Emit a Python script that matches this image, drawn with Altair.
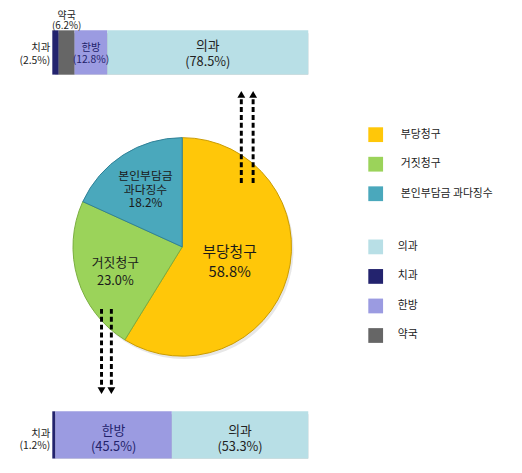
import altair as alt
import pandas as pd

FONT = "Noto Sans CJK KR"

# ---- data ----
pie_cats = ["부당청구", "거짓청구", "본인부담금 과다징수"]
pie_vals = [58.8, 23.0, 18.2]
pie_text = ["부당청구\n58.8%", "거짓청구\n23.0%", "본인부담금\n과다징수\n18.2%"]

top_cats = ["치과", "약국", "한방", "의과"]
top_vals = [2.5, 6.2, 12.8, 78.5]

bot_cats = ["치과", "한방", "의과"]
bot_vals = [1.2, 45.5, 53.3]

bar_legend_order = ["의과", "치과", "한방", "약국"]
bar_colors = ["#B8DFE6", "#23236E", "#9B9BE1", "#666666"]
pie_colors = ["#FFC709", "#9BD35A", "#4AA8BC"]
pie_strokes = ["#C99A00", "#7AAE3F", "#2F8096"]


def bar_df(cats, vals):
    df = pd.DataFrame({"cat": cats, "pct": vals})
    df["end"] = df["pct"].cumsum()
    df["start"] = df["end"] - df["pct"]
    df["mid"] = (df["start"] + df["end"]) / 2
    df["label"] = df["cat"] + "\n(" + df["pct"].map(lambda v: f"{v:.1f}%") + ")"
    return df


top_df = bar_df(top_cats, top_vals)
bot_df = bar_df(bot_cats, bot_vals)
pie_df = pd.DataFrame({"cat": pie_cats, "pct": pie_vals, "label": pie_text,
                       "idx": list(range(len(pie_cats)))})
dummy = pd.DataFrame({"a": [0]})

xs = alt.Scale(domain=[0, 100], range=[45, 305])
bar_scale = alt.Scale(domain=bar_legend_order, range=bar_colors)
pie_scale = alt.Scale(domain=pie_cats, range=pie_colors)
CX, CY, R = 177, 239, 111

layers = []

# ---- bar shadows ----
for y1, y2 in [(19, 64), (406, 454)]:
    layers.append(
        alt.Chart(dummy).mark_bar(color="#b5b5b5", xOffset=3, yOffset=3).encode(
            x=alt.X(datum=0, scale=xs, axis=None), x2=alt.datum(100),
            y=alt.value(y1), y2=alt.value(y2))
    )

# ---- bars ----
layers.append(
    alt.Chart(top_df).mark_bar().encode(
        x=alt.X("start:Q", scale=xs, axis=None), x2="end:Q",
        y=alt.value(19), y2=alt.value(64),
        color=alt.Color("cat:N", scale=bar_scale, legend=alt.Legend(
            orient="none", legendX=366, legendY=231.5, title=None,
            symbolType="square", symbolSize=225, symbolStrokeWidth=0,
            labelFont=FONT, labelFontSize=11, labelColor="#222",
            labelOffset=15, rowPadding=15, padding=0)))
)
layers.append(
    alt.Chart(bot_df).mark_bar().encode(
        x=alt.X("start:Q", scale=xs, axis=None), x2="end:Q",
        y=alt.value(406), y2=alt.value(454),
        color=alt.Color("cat:N", scale=bar_scale, legend=None))
)

navy_cond = alt.condition(alt.datum.cat == "한방", alt.value("#22226A"), alt.value("#222222"))


def label_layer(df, cats, field, y, fs, lh, color=None, align="center", dx=0):
    mk = dict(font=FONT, fontSize=fs, lineBreak="\n", lineHeight=lh, baseline="middle",
              align=align, dx=dx, dy=-lh / 2)
    enc = dict(x=alt.X(f"{field}:Q", scale=xs, axis=None), y=alt.value(y), text="label:N")
    if color is None:
        enc["color"] = navy_cond
    else:
        mk["color"] = color
    return alt.Chart(df).transform_filter(
        alt.FieldOneOfPredicate(field="cat", oneOf=cats)).mark_text(**mk).encode(**enc)


# ---- bar labels ----
layers.append(label_layer(top_df, ["의과"], "mid", 43, 13, 16, "#222"))
layers.append(label_layer(top_df, ["한방"], "mid", 43, 10.5, 12, "#22226A"))
layers.append(label_layer(top_df, ["약국"], "mid", 9.75, 10, 9.5, "#222"))
layers.append(label_layer(top_df, ["치과"], "start", 43.5, 10.5, 13, "#222", align="right", dx=-2))
layers.append(label_layer(bot_df, ["한방", "의과"], "mid", 434, 13, 16))
layers.append(label_layer(bot_df, ["치과"], "start", 435, 10.5, 12, "#222", align="right", dx=-2))

# ---- pie ----
layers.append(
    alt.Chart(dummy).mark_arc(radius=R, theta=0, theta2=6.2832, color="#dddddd", opacity=0.7).encode(
        x=alt.value(CX + 2), y=alt.value(CY + 3))
)
layers.append(
    alt.Chart(pie_df).mark_arc(radius=R, strokeWidth=1).encode(
        theta=alt.Theta("pct:Q", stack=True, scale=alt.Scale(domain=[0, 100])),
        order=alt.Order("idx:Q"),
        color=alt.Color("cat:N", scale=pie_scale, legend=alt.Legend(
            orient="none", legendX=366, legendY=117.5, title=None,
            symbolType="square", symbolSize=225, symbolStrokeWidth=0,
            labelFont=FONT, labelFontSize=11, labelColor="#222",
            labelOffset=18, rowPadding=15, padding=0)),
        stroke=alt.Stroke("cat:N", scale=alt.Scale(domain=pie_cats, range=pie_strokes), legend=None),
        x=alt.value(CX), y=alt.value(CY))
)

pie_text_base = alt.Chart(pie_df).transform_window(
    cum="sum(pct)", sort=[alt.SortField("idx")], frame=[None, 0]
).transform_calculate(mid="datum.cum - datum.pct / 2")

for cat, rad, fs, lh, nl, extra in [("부당청구", 50, 15, 20, 2, 2), ("거짓청구", 71, 13, 18, 2, 5),
                                    ("본인부담금 과다징수", 69, 12, 14, 3, 0)]:
    layers.append(
        pie_text_base.transform_filter(alt.datum.cat == cat).mark_text(
            font=FONT, fontSize=fs, lineBreak="\n", lineHeight=lh, baseline="middle",
            radius=rad, dy=-(nl - 1) * lh / 2 + extra, color="#1a1a1a").encode(
            theta=alt.Theta("mid:Q", scale=alt.Scale(domain=[0, 100])),
            text="label:N", x=alt.value(CX), y=alt.value(CY))
    )

# ---- arrows ----
def arrow(x, y_from, y_to, up):
    head_y = y_to - 4 if up else y_to + 4
    rule = alt.Chart(dummy).mark_rule(strokeWidth=3, strokeDash=[5, 3], color="black").encode(
        x=alt.value(x), y=alt.value(y_from), y2=alt.value(y_to))
    head = alt.Chart(dummy).mark_point(
        shape="triangle-up" if up else "triangle-down", filled=True, size=64,
        color="black", opacity=1).encode(x=alt.value(x), y=alt.value(head_y))
    return [rule, head]

layers += arrow(237, 174, 88, True)
layers += arrow(249, 174, 88, True)
layers += arrow(95, 302, 381, False)
layers += arrow(105, 302, 381, False)

chart = alt.layer(*layers).resolve_scale(color="independent").properties(
    width=514, height=465, padding=0, autosize=alt.AutoSizeParams(type="none"),
    background="white"
).configure_view(stroke=None)

chart.save("out.html", embed_options={"renderer": "svg", "actions": False})
